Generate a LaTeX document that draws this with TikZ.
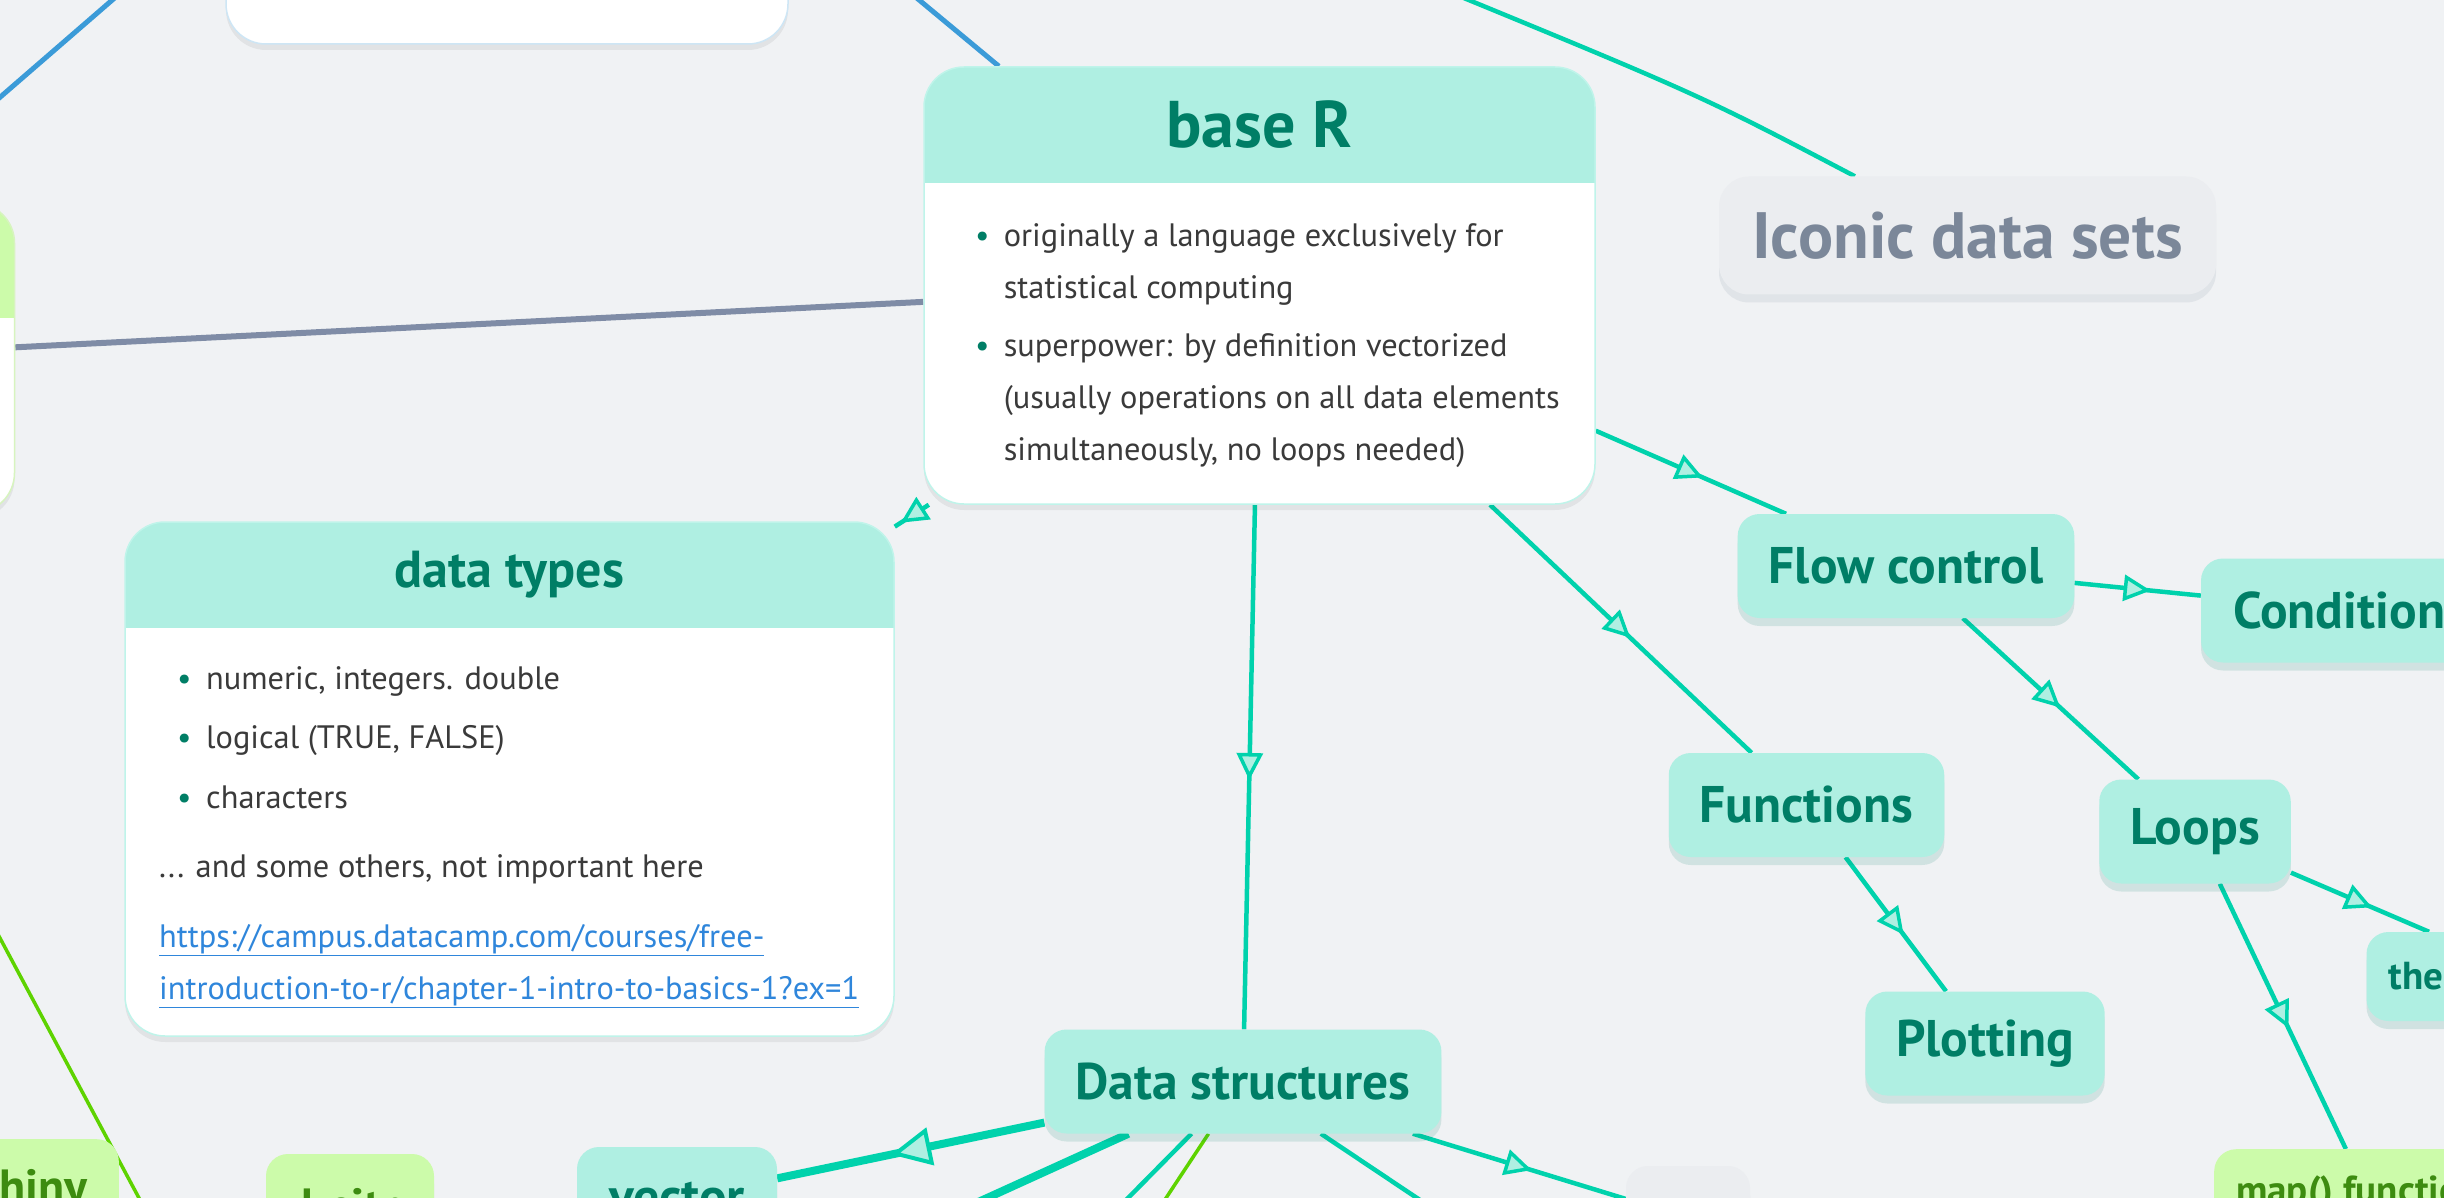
\documentclass[tikz,border=0pt]{standalone}
\usepackage{fontspec}
\setmainfont{PT Sans}
\usetikzlibrary{arrows.meta, positioning, shadows, backgrounds, decorations.markings}

\definecolor{bgcol}{HTML}{F0F2F4}
\definecolor{tealfill}{HTML}{AFEFE2}
\definecolor{tealline}{HTML}{00D2AC}
\definecolor{tealtext}{HTML}{007E66}
\definecolor{greenfill}{HTML}{CCFBAA}
\definecolor{greenline}{HTML}{5ED300}
\definecolor{greentext}{HTML}{3D8C10}
\definecolor{greyfill}{HTML}{EBEDF0}
\definecolor{greytext}{HTML}{7B8799}
\definecolor{slateline}{HTML}{7F8CA6}
\definecolor{blueline}{HTML}{3B9BD8}
\definecolor{linkblue}{HTML}{2F86DB}
\definecolor{bodytext}{HTML}{3A3A3A}

\newcommand{\carddot}{\textcolor{tealtext}{\fontsize{32}{32}\selectfont\textbullet}}
\newcommand{\weblink}[1]{\textcolor{linkblue}{\underline{#1}}}

\tikzset{
  softshadow/.style={drop shadow={shadow xshift=0pt, shadow yshift=-8pt, opacity=0.13, fill=#1}},
  topic/.style={fill=tealfill, text=tealtext, rounded corners=22pt, inner xsep=31pt,
    minimum height=104pt, font=\fontsize{51.5}{58}\selectfont\bfseries, softshadow=tealtext},
  smalltopic/.style={topic, inner xsep=22pt, minimum height=89pt, font=\fontsize{39}{44}\selectfont\bfseries},
  leaf/.style={fill=greenfill, text=greentext, rounded corners=22pt, inner xsep=31pt,
    minimum height=104pt, font=\fontsize{48}{54}\selectfont\bfseries, softshadow=greentext},
  greytopic/.style={fill=greyfill, text=greytext, rounded corners=30pt,
    font=\fontsize{65.5}{72}\selectfont\bfseries, softshadow=greytext},
  card/.style={fill=white, draw=#1, line width=1.5pt, rounded corners=40pt, inner sep=0pt,
    drop shadow={shadow xshift=0pt, shadow yshift=-6pt, opacity=0.06, fill=black}},
  hdr/.style 2 args={path picture={\fill[#1, sharp corners] (path picture bounding box.north west)
    rectangle ([yshift=-#2]path picture bounding box.north east);}},
  cardtitle/.style={text=tealtext, font=\fontsize{52}{60}\selectfont\bfseries},
  cardbody/.style={text=bodytext, inner sep=0pt, font=\fontsize{32.4}{52}\selectfont},
  tealconn/.style={draw=tealline, line width=4.5pt},
  thickconn/.style={draw=tealline, line width=8pt},
  greenconn/.style={draw=greenline, line width=3.5pt},
  blueconn/.style={draw=blueline, line width=5pt},
  slateconn/.style={draw=slateline, line width=6pt},
  midarrow/.style={postaction={decorate}, decoration={markings,
    mark=at position 0.5 with {\arrow[xshift=13pt]{Triangle[length=27pt, width=26pt, line width=3.5pt, color=tealline, fill=tealfill]}}}},
  bigarrow/.style={postaction={decorate}, decoration={markings,
    mark=at position 0.5 with {\arrow[xshift=20pt]{Triangle[length=40pt, width=38pt, line width=4pt, color=tealline, fill=tealfill]}}}},
}

\begin{document}
\begin{tikzpicture}[x=1pt, y=-1pt]
  \useasboundingbox (0,0) rectangle (2444,1198);
  \clip (0,0) rectangle (2444,1198);

  % cards
  \node[card=blueline!25, minimum width=562pt, minimum height=200pt] (topcard) at (507,-56) {};
  \node[card=greenline!25, hdr={greenfill}{115pt}, minimum width=429pt, minimum height=310pt] (leftcard) at (-200,358) {};

  \node[card=tealline!25, hdr={tealfill}{116pt}, minimum width=671pt, minimum height=437pt] (baseR) at (1259.5,285.5) {};
  \node[cardtitle, font=\fontsize{66}{72}\selectfont\bfseries] (baseR-title) at (1259.5,125) {base R};
  \node[cardbody, anchor=base west] (baseR-text) at (975,247) {%
    \begin{tabular}[t]{@{}p{28.6pt}@{}l@{}}
      \carddot & originally a language exclusively for\\
               & statistical computing\\[6pt]
      \carddot & superpower: by definition vectorized\\
               & (usually operations on all data elements\\
               & simultaneously, no loops needed)
    \end{tabular}};

  \node[card=tealline!25, hdr={tealfill}{106pt}, minimum width=769pt, minimum height=514pt] (dtypes) at (509.5,779) {};
  \node[cardtitle] (dtypes-title) at (509.5,575) {data types};
  \node[cardbody, anchor=base west] (dtypes-text) at (159,689) {%
    \begin{tabular}[t]{@{}p{47pt}@{}l@{}}
      \hspace{18pt}\carddot & numeric, integers. double\\[7.5pt]
      \hspace{18pt}\carddot & logical (TRUE, FALSE)\\[7.5pt]
      \hspace{18pt}\carddot & characters\\[17pt]
      \multicolumn{2}{@{}l@{}}{... and some others, not important here}\\[18.5pt]
      \multicolumn{2}{@{}l@{}}{\weblink{https://campus.datacamp.com/courses/free-}}\\
      \multicolumn{2}{@{}l@{}}{\weblink{introduction-to-r/chapter-1-intro-to-basics-1?ex=1}}
    \end{tabular}};

  % topics
  \node[greytopic, minimum width=497pt, minimum height=118pt] (iconic) at (1967.5,235.5) {Iconic data sets};
  \node[topic, minimum width=334pt] (flow) at (1906,566) {Flow control};
  \node[topic, minimum width=298pt] (cond) at (2350,610.5) {Conditions};
  \node[topic, minimum width=275pt] (funcs) at (1806.5,805) {Functions};
  \node[topic, minimum width=190pt] (loops) at (2195,831.5) {Loops};
  \node[topic, minimum width=236pt] (plot) at (1985,1043.5) {Plotting};
  \node[smalltopic, text width=289pt, align=left] (thenode) at (2533,976.5) {the};
  \node[smalltopic, fill=greenfill, text=greentext, anchor=north west, softshadow=greentext] (mapf) at (2214,1149) {map() functions};
  \node[topic, minimum width=396pt] (ds) at (1243,1081.5) {Data structures};
  \node[topic, minimum width=200pt] (vector) at (677,1199) {vector};
  \node[leaf, minimum width=168pt] (knitr) at (350,1206) {knitr};
  \node[leaf, anchor=north east] (shiny) at (119,1139) {shiny};
  \node[fill=greyfill, rounded corners=22pt, minimum width=124pt, minimum height=104pt, softshadow=greytext] (dsgrey) at (1688,1218) {};

  % loose ends
  \coordinate (blue-a) at (140,-24);
  \coordinate (blue-b) at (-32,125);
  \coordinate (blue-c) at (747,-143);
  \coordinate (ico-a) at (1420,-20);
  \coordinate (ico-b) at (1700,95);
  \coordinate (green-a) at (-30,882);
  \coordinate (green-b) at (170,1256);
  \coordinate (ds-a) at (731,1314.5);
  \coordinate (ds-b) at (1013,1314.5);
  \coordinate (ds-c) at (1089,1314.5);
  \coordinate (ds-d) at (1591,1314.5);

  \begin{scope}[on background layer]
    \clip (0,0) rectangle (2444,1198);
    \fill[bgcol] (0,0) rectangle (2444,1198);
    \draw[blueconn] (blue-a) -- (blue-b);
    \draw[blueconn] (baseR) -- (blue-c);
    \draw[slateconn] (leftcard) -- (baseR);
    \draw[tealconn] (ico-a) .. controls (ico-b) .. (iconic);
    \draw[greenconn] (green-a) -- (green-b);

    \draw[tealconn, midarrow] (baseR) -- (dtypes);
    \draw[tealconn, midarrow] (baseR) -- (ds);
    \draw[tealconn, midarrow] (baseR) -- (funcs);
    \draw[tealconn, midarrow] (baseR) -- (flow);
    \draw[tealconn, midarrow] (flow) -- (cond);
    \draw[tealconn, midarrow] (flow) -- (loops);
    \draw[tealconn, midarrow] (funcs) -- (plot);
    \draw[tealconn, midarrow] (loops) -- (thenode);
    \draw[tealconn, midarrow] (loops) -- (mapf);

    \draw[thickconn, bigarrow] (ds) -- (vector);
    \draw[tealconn, midarrow] (ds) -- (dsgrey);
    \draw[thickconn] (ds) -- (ds-a);
    \draw[tealconn] (ds) -- (ds-b);
    \draw[greenconn] (ds) -- (ds-c);
    \draw[tealconn] (ds) -- (ds-d);
  \end{scope}
\end{tikzpicture}
\end{document}
